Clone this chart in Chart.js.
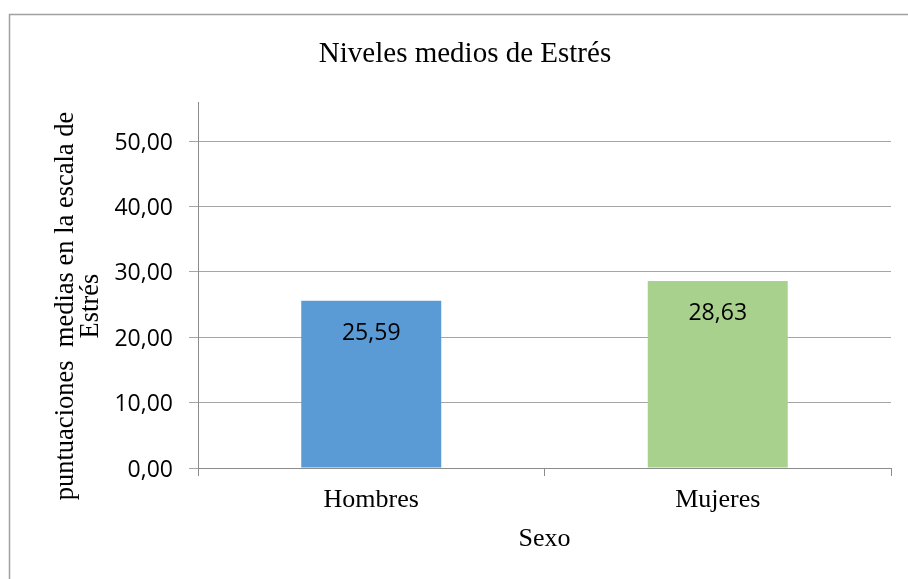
<!DOCTYPE html>
<html>
<head>
<meta charset="utf-8">
<title>Niveles medios de Estrés</title>
<script src="https://cdn.jsdelivr.net/npm/chart.js@4/dist/chart.umd.min.js"></script>
<style>
  html, body { margin: 0; padding: 0; background: #fff; }
  canvas { display: block; }
</style>
</head>
<body>
<canvas id="chart" width="908" height="579"></canvas>
<script>
// data
const categories = ['Hombres', 'Mujeres'];
const stressMeans = [25.59, 28.63];
const yTickValues = [0, 10, 20, 30, 40, 50];
const yAxisMax = 56;
const chartTitle = 'Niveles medios de Estrés';
const xAxisTitle = 'Sexo';
const yAxisTitle = ['puntuaciones  medias en la escala de', 'Estrés'];

const barColors = ['#5b9bd5', '#a9d18e'];
const serif = '"Liberation Serif", "Times New Roman", serif';
const sans = '"Open Sans", "Noto Sans", sans-serif';

const fmt = v => v.toFixed(2).replace('.', ',');

// outer frame of the chart object (only top and left edges are visible)
const framePlugin = {
  id: 'frame',
  beforeDraw(chart) {
    const ctx = chart.ctx;
    ctx.save();
    ctx.strokeStyle = '#a0a0a0';
    ctx.lineWidth = 1.5;
    ctx.beginPath();
    ctx.moveTo(9.5, chart.height);
    ctx.lineTo(9.5, 14.5);
    ctx.lineTo(chart.width, 14.5);
    ctx.stroke();
    ctx.restore();
  }
};

// value labels inside the top of each bar
const barLabels = {
  id: 'barLabels',
  afterDatasetsDraw(chart) {
    const ctx = chart.ctx;
    const meta = chart.getDatasetMeta(0);
    ctx.save();
    ctx.font = '23px ' + sans;
    ctx.fillStyle = '#000';
    ctx.textAlign = 'center';
    ctx.textBaseline = 'alphabetic';
    meta.data.forEach((bar, i) => {
      ctx.fillText(fmt(stressMeans[i]), bar.x, bar.y + 39);
    });
    ctx.restore();
  }
};

// y axis title, two lines, placed like the original
const yTitlePlugin = {
  id: 'yTitle',
  afterDraw(chart) {
    const ctx = chart.ctx;
    ctx.save();
    ctx.font = '26.5px ' + serif;
    ctx.fillStyle = '#000';
    ctx.textAlign = 'center';
    ctx.textBaseline = 'alphabetic';
    ctx.translate(0, 306);
    ctx.rotate(-Math.PI / 2);
    ctx.fillText(yAxisTitle[0], 0, 73);
    ctx.fillText(yAxisTitle[1], 0, 98);
    ctx.restore();
  }
};

new Chart(document.getElementById('chart'), {
  type: 'bar',
  data: {
    labels: categories,
    datasets: [{
      data: stressMeans,
      backgroundColor: barColors,
      borderWidth: 0,
      categoryPercentage: 1,
      barPercentage: 0.404
    }]
  },
  options: {
    responsive: false,
    animation: false,
    layout: { padding: { left: 39, right: 17, top: 0, bottom: 0 } },
    plugins: {
      legend: { display: false },
      tooltip: { enabled: false },
      title: {
        display: true,
        text: chartTitle,
        color: '#000',
        font: { family: serif, size: 29, weight: 'normal' },
        padding: { top: 37, bottom: 30.2 }
      }
    },
    scales: {
      x: {
        afterFit: s => { s.height = 111; },
        grid: {
          offset: true,
          drawOnChartArea: false,
          drawTicks: true,
          tickLength: 8,
          color: '#8c8c8c'
        },
        border: { color: '#8c8c8c' },
        ticks: {
          color: '#000',
          padding: 8.5,
          font: { family: serif, size: 26 }
        },
        title: {
          display: true,
          text: xAxisTitle,
          color: '#000',
          font: { family: serif, size: 26 },
          padding: { top: 0, bottom: 24.3 }
        }
      },
      y: {
        min: 0,
        max: yAxisMax,
        afterFit: s => { s.width = 159; },
        afterBuildTicks: s => {
          s.ticks = yTickValues.map(v => ({ value: v }));
        },
        grid: {
          color: '#a6a6a6',
          tickLength: 9
        },
        border: { color: '#8c8c8c' },
        ticks: {
          color: '#000',
          padding: 16,
          labelOffset: 2,
          font: { family: sans, size: 23 },
          callback: v => fmt(v)
        }
      }
    }
  },
  plugins: [framePlugin, barLabels, yTitlePlugin]
});
</script>
</body>
</html>
